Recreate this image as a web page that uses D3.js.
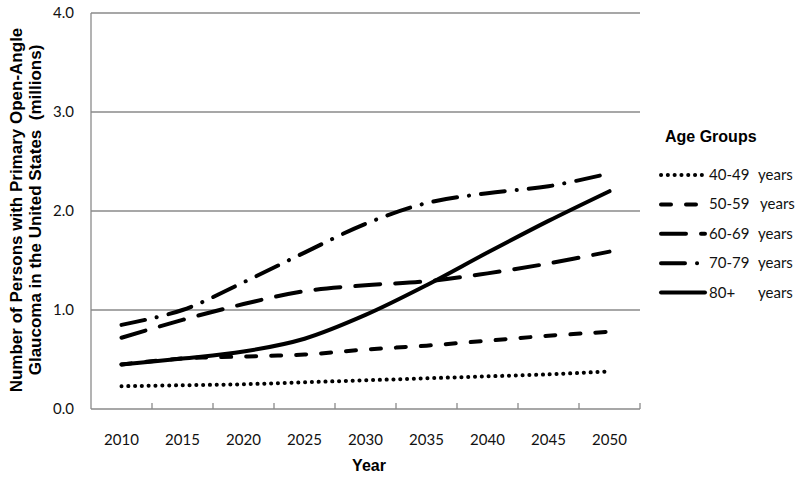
<!DOCTYPE html>
<html>
<head>
<meta charset="utf-8">
<script src="https://cdn.jsdelivr.net/npm/d3@7/dist/d3.min.js"></script>
<style>
  body { margin: 0; background: #fff; }
  svg { display: block; }
</style>
</head>
<body>
<div id="chart"></div>
<script>
// data (millions of persons)
const years = ['2010', '2015', '2020', '2025', '2030', '2035', '2040', '2045', '2050'];
const ages40 = [0.23, 0.24, 0.25, 0.27, 0.29, 0.31, 0.33, 0.35, 0.38];
const ages50 = [0.45, 0.51, 0.53, 0.55, 0.60, 0.64, 0.69, 0.74, 0.78];
const ages60 = [0.72, 0.90, 1.06, 1.19, 1.25, 1.29, 1.37, 1.47, 1.59];
const ages70 = [0.85, 1.00, 1.28, 1.58, 1.87, 2.08, 2.18, 2.25, 2.38];
const ages80 = [0.45, 0.51, 0.58, 0.71, 0.95, 1.25, 1.58, 1.90, 2.20];
const yTicks = [0, 1, 2, 3, 4];

const groups = [
  { label: '40-49', values: ages40, dash: '0.1,6.7' },
  { label: '50-59', values: ages50, dash: '10,15' },
  { label: '60-69', values: ages60, dash: '25,15' },
  { label: '70-79', values: ages70, dash: '24,12,0.1,12' },
  { label: '80+', values: ages80, dash: null }
];

const width = 800;
const height = 478;
const plot = { left: 91, right: 640, top: 13, bottom: 409 };

const svg = d3
  .select('#chart')
  .append('svg')
  .attr('width', width)
  .attr('height', height);

const x = d3.scaleBand().domain(years).range([plot.left, plot.right]);
const y = d3.scaleLinear().domain([0, 4]).range([plot.bottom, plot.top]);

const gray = '#8a8a8a';
const tickFont = 'Lato, "Open Sans", sans-serif';
const boldFont = '"Liberation Sans", Arial, sans-serif';

// horizontal gridlines
svg
  .selectAll('.grid')
  .data(yTicks.slice(1))
  .join('line')
  .attr('class', 'grid')
  .attr('x1', plot.left)
  .attr('x2', plot.right)
  .attr('y1', (d) => y(d))
  .attr('y2', (d) => y(d))
  .attr('stroke', gray)
  .attr('stroke-width', 1.3);

// y axis labels
svg
  .selectAll('.ylabel')
  .data(yTicks)
  .join('text')
  .attr('class', 'ylabel')
  .attr('x', 74)
  .attr('y', (d) => y(d) + 5)
  .attr('text-anchor', 'end')
  .attr('font-family', tickFont)
  .attr('font-size', 15)
  .attr('fill', '#111')
  .text((d) => d.toFixed(1));

// axis lines
svg
  .append('line')
  .attr('x1', plot.left)
  .attr('x2', plot.left)
  .attr('y1', plot.top)
  .attr('y2', plot.bottom)
  .attr('stroke', gray)
  .attr('stroke-width', 1.3);

svg
  .append('line')
  .attr('x1', plot.left)
  .attr('x2', plot.right)
  .attr('y1', plot.bottom)
  .attr('y2', plot.bottom)
  .attr('stroke', gray)
  .attr('stroke-width', 1.3);

// tick marks sit between categories, pointing inwards
svg
  .selectAll('.xtick')
  .data(years)
  .join('line')
  .attr('class', 'xtick')
  .attr('x1', (d) => x(d) + x.bandwidth())
  .attr('x2', (d) => x(d) + x.bandwidth())
  .attr('y1', plot.bottom - 6)
  .attr('y2', plot.bottom)
  .attr('stroke', gray)
  .attr('stroke-width', 1.3);

svg
  .selectAll('.xlabel')
  .data(years)
  .join('text')
  .attr('class', 'xlabel')
  .attr('x', (d) => x(d) + x.bandwidth() / 2)
  .attr('y', 445)
  .attr('text-anchor', 'middle')
  .attr('font-family', tickFont)
  .attr('font-size', 15)
  .attr('fill', '#111')
  .text((d) => d);

// axis titles
svg
  .append('text')
  .attr('x', 369)
  .attr('y', 471)
  .attr('text-anchor', 'middle')
  .attr('font-family', boldFont)
  .attr('font-weight', 'bold')
  .attr('font-size', 16)
  .text('Year');

const yTitle = svg
  .append('text')
  .attr('transform', 'translate(0,210) rotate(-90)')
  .attr('text-anchor', 'middle')
  .attr('font-family', boldFont)
  .attr('font-weight', 'bold')
  .attr('font-size', 17);

yTitle.append('tspan').attr('x', 0).attr('y', 22).text('Number of Persons with Primary Open-Angle');
yTitle
  .append('tspan')
  .attr('x', 0)
  .attr('y', 41)
  .attr('xml:space', 'preserve')
  .text('Glaucoma in the United States  (millions)');

// series lines
const line = d3
  .line()
  .x((d, i) => x(years[i]) + x.bandwidth() / 2)
  .y((d) => y(d))
  .curve(d3.curveCatmullRom.alpha(0.5));

svg
  .selectAll('.series')
  .data(groups)
  .join('path')
  .attr('class', 'series')
  .attr('d', (d) => line(d.values))
  .attr('fill', 'none')
  .attr('stroke', '#000')
  .attr('stroke-width', 4)
  .attr('stroke-linecap', 'round')
  .attr('stroke-dasharray', (d) => d.dash);

// legend
svg
  .append('text')
  .attr('x', 665)
  .attr('y', 142)
  .attr('font-family', boldFont)
  .attr('font-weight', 'bold')
  .attr('font-size', 16)
  .text('Age Groups');

const legendY = d3.scalePoint().domain(groups.map((g) => g.label)).range([175, 292.5]);

const item = svg
  .selectAll('.legend')
  .data(groups)
  .join('g')
  .attr('class', 'legend')
  .attr('transform', (d) => 'translate(0,' + legendY(d.label) + ')');

item
  .append('line')
  .attr('x1', 661)
  .attr('x2', 705)
  .attr('stroke', '#000')
  .attr('stroke-width', 4)
  .attr('stroke-linecap', 'round')
  .attr('stroke-dasharray', (d) => d.dash);

item
  .append('text')
  .attr('x', 709)
  .attr('y', 5)
  .attr('font-family', tickFont)
  .attr('font-size', 15)
  .attr('fill', '#111')
  .text((d) => d.label);

item
  .append('text')
  .attr('x', (d) => (d.label === '50-59' ? 760 : 758))
  .attr('y', 5)
  .attr('font-family', tickFont)
  .attr('font-size', 15)
  .attr('fill', '#111')
  .text('years');
</script>
</body>
</html>
